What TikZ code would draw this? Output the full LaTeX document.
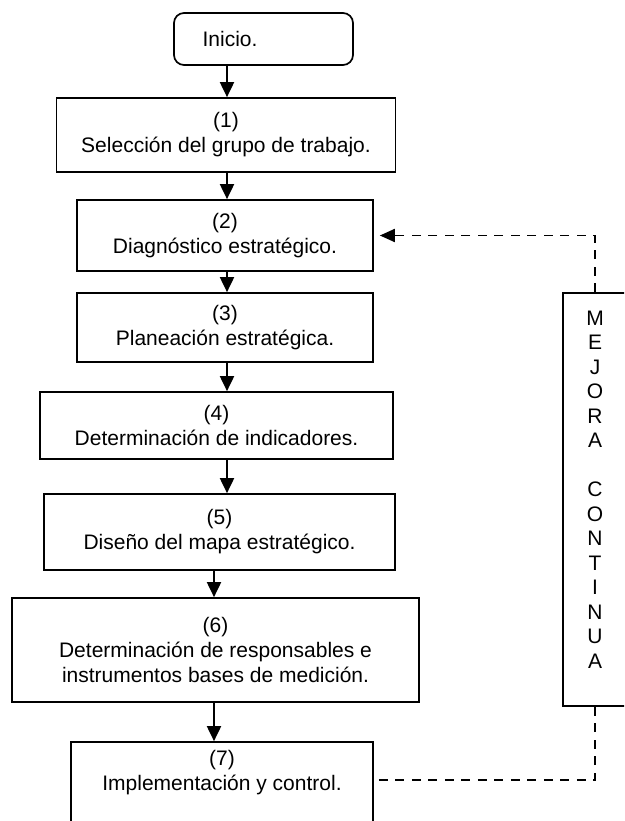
\documentclass[tikz,border=0pt]{standalone}
\usepackage{fontspec}
\setmainfont{Liberation Sans}
\usetikzlibrary{arrows.meta,calc}
\begin{document}
\begin{tikzpicture}[x=1pt,y=-1pt,
  txt/.style={align=center, inner sep=0pt, font=\fontsize{21}{25}\selectfont},
  box/.style={draw, line width=1.7pt, txt},
  arr/.style={line width=1.9pt, -{Triangle[width=14pt,length=15pt]}},
  dline/.style={line width=1.9pt, dash pattern=on 9pt off 7.5pt},
  darr/.style={dline, -{Triangle[width=13pt,length=15pt]}}]
\clip (0,0) rectangle (624,821);
\fill[white] (0,0) rectangle (624,821);
\coordinate (c1) at (227,0);
\coordinate (c2) at (214,0);
% start
\node[draw, line width=1.7pt, rounded corners=10pt, minimum width=179pt, minimum height=52pt] (ini) at (263.5,39) {};
\node[txt] (initxt) at (230,39) {Inicio.};
% steps
\node[box, minimum width=339pt, minimum height=74pt] (b1) at (226,135) {(1)\\Selección del grupo de trabajo.};
\node[box, minimum width=296pt, minimum height=71pt] (b2) at (225,235.5) {(2)\\Diagnóstico estratégico.};
\node[box, minimum width=296pt, minimum height=69pt] (b3) at (225,327.5) {(3)\\Planeación estratégica.};
\node[box, minimum width=353pt, minimum height=67pt] (b4) at (216.5,425.5) {(4)\\Determinación de indicadores.};
\node[box, minimum width=351pt, minimum height=76pt] (b5) at (219.5,532) {(5)\\Diseño del mapa estratégico.};
\node[box, minimum width=407pt, minimum height=104pt] (b6) at (215.5,650) {(6)\\Determinación de responsables e\\instrumentos bases de medición.};
\node[draw, line width=1.7pt, minimum width=302pt, minimum height=93pt] (b7) at (222,788.5) {};
\node[txt] (t7) at (222,772.5) {(7)\\Implementación y control.};
% mejora continua
\node[draw, line width=1.7pt, minimum width=64pt, minimum height=413pt] (mej) at (595,499.5) {};
\node[align=center, inner sep=0pt, font=\fontsize{21}{24.5}\selectfont] (mejtxt) at (595,489.5)
  {M\\E\\J\\O\\R\\A\\[24.5pt]C\\O\\N\\T\\I\\N\\U\\A};
% arrows
\draw[arr] (ini.south -| c1) -- (b1.north -| c1);
\draw[arr] (b1.south -| c1) -- (b2.north -| c1);
\draw[arr] (b2.south -| c1) -- (b3.north -| c1);
\draw[arr] (b3.south -| c1) -- (b4.north -| c1);
\draw[arr] (b4.south -| c1) -- (b5.north -| c1);
\draw[arr] (b5.south -| c2) -- (b6.north -| c2);
\draw[arr] (b6.south -| c2) -- (b7.north -| c2);
% feedback
\draw[darr] (mej.north) |- ($(b2.east)+(6,0)$);
\draw[dline] ($(b7.east |- t7)+(5,7.5)$) -| (mej.south);
\end{tikzpicture}
\end{document}
